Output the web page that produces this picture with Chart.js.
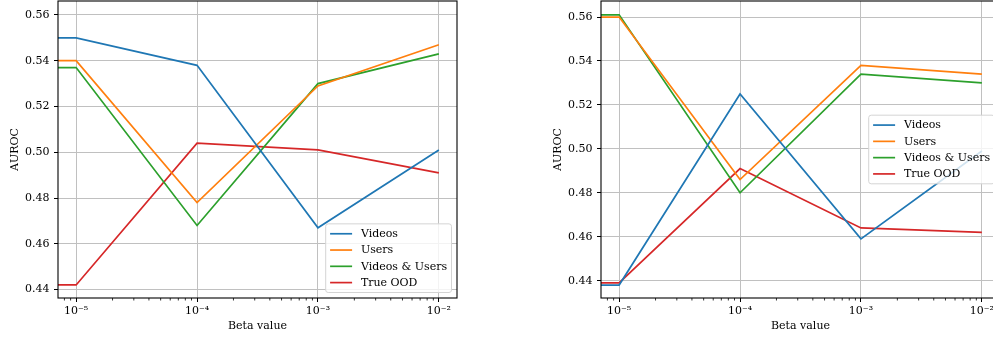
<!DOCTYPE html>
<html><head><meta charset="utf-8">
<script src="https://cdn.jsdelivr.net/npm/chart.js@4/dist/chart.umd.min.js"></script>
<style>
html,body{margin:0;padding:0;background:#fff;width:993px;height:340px;overflow:hidden;position:relative}
canvas{position:absolute;top:0}
#left{left:0}
#right{left:543px}
</style></head><body>
<canvas id="left" width="470" height="340"></canvas>
<canvas id="right" width="470" height="340"></canvas>
<script>
// beta = 0 sits on a log axis, so it is clipped to the left edge like matplotlib does
const betas = [0, 1e-5, 1e-4, 1e-3, 1e-2];
const seriesNames = ['Videos', 'Users', 'Videos & Users', 'True OOD'];
const seriesColors = ['#1f77b4', '#ff7f0e', '#2ca02c', '#d62728'];

// left panel
const videosA    = [0.550, 0.550, 0.538, 0.467, 0.501];
const usersA     = [0.540, 0.540, 0.478, 0.529, 0.547];
const bothA      = [0.537, 0.537, 0.468, 0.530, 0.543];
const trueOodA   = [0.442, 0.442, 0.504, 0.501, 0.491];

// right panel
const videosB    = [0.438, 0.438, 0.525, 0.459, 0.499];
const usersB     = [0.560, 0.560, 0.486, 0.538, 0.534];
const bothB      = [0.561, 0.561, 0.480, 0.534, 0.530];
const trueOodB   = [0.439, 0.439, 0.491, 0.464, 0.462];

const xTickValues = [1e-5, 1e-4, 1e-3, 1e-2];
const xTickLabels = ['10\u207B\u2075', '10\u207B\u2074', '10\u207B\u00B3', '10\u207B\u00B2'];
const yTickValues = [0.44, 0.46, 0.48, 0.50, 0.52, 0.54, 0.56];

const X_MIN = Math.pow(10, -5.15);
const X_MAX = Math.pow(10, -1.85);
const yRangeA = [0.4363, 0.5661];
const yRangeB = [0.4321, 0.5673];

const FONT = "'DejaVu Serif', serif";
const FS = 11;

function makeDatasets(seriesList) {
  return seriesList.map((vals, i) => ({
    label: seriesNames[i],
    data: betas.map((b, j) => ({ x: b > 0 ? b : X_MIN, y: vals[j] })),
    borderColor: seriesColors[i],
    backgroundColor: seriesColors[i],
    borderWidth: 1.7,
    pointRadius: 0,
    tension: 0,
    fill: false
  }));
}

const framePlugin = {
  id: 'frameAndLegend',
  afterDatasetsDraw(chart, args, opts) {
    const { ctx, chartArea: a } = chart;
    const x = chart.scales.x;
    ctx.save();
    // minor ticks of the log axis
    ctx.strokeStyle = '#000';
    ctx.lineWidth = 0.8;
    for (let e = -7; e <= 0; e++) {
      for (let m = 2; m <= 9; m++) {
        const v = m * Math.pow(10, e);
        if (v < x.min || v > x.max) continue;
        const px = x.getPixelForValue(v);
        ctx.beginPath();
        ctx.moveTo(px, a.bottom);
        ctx.lineTo(px, a.bottom + 2.5);
        ctx.stroke();
      }
    }
    // axes frame
    ctx.lineWidth = 1.1;
    ctx.strokeRect(a.left, a.top, a.right - a.left, a.bottom - a.top);

    // legend box
    const em = FS;
    ctx.font = FS + 'px ' + FONT;
    const ds = chart.data.datasets;
    const textW = Math.max(...ds.map(d => ctx.measureText(d.label).width));
    const pad = 0.4 * em, handle = 2 * em, gap = 0.8 * em;
    const rowH = 1.48 * em, edge = 0.9 * em;
    const w = pad + handle + gap + textW + pad;
    const h = edge * 2 + rowH * (ds.length - 1);
    const right = a.right - 0.5 * em;
    let top;
    if (opts.placement === 'lower right') top = a.bottom - 0.5 * em - h;
    else top = (a.top + a.bottom) / 2 - h / 2;
    const left = right - w;
    ctx.beginPath();
    ctx.roundRect(left, top, w, h, 2.5);
    ctx.fillStyle = 'rgba(255,255,255,0.8)';
    ctx.fill();
    ctx.strokeStyle = '#d4d4d4';
    ctx.lineWidth = 1;
    ctx.stroke();
    ctx.textBaseline = 'middle';
    ctx.textAlign = 'left';
    ds.forEach((d, i) => {
      const cy = top + edge + i * rowH;
      ctx.strokeStyle = d.borderColor;
      ctx.lineWidth = 1.7;
      ctx.beginPath();
      ctx.moveTo(left + pad, cy);
      ctx.lineTo(left + pad + handle, cy);
      ctx.stroke();
      ctx.fillStyle = '#000';
      ctx.fillText(d.label, left + pad + handle + gap, cy + 0.5);
    });
    ctx.restore();
  }
};

function makeChart(id, seriesList, yRange, placement) {
  return new Chart(document.getElementById(id), {
    type: 'line',
    data: { datasets: makeDatasets(seriesList) },
    options: {
      responsive: false,
      animation: false,
      devicePixelRatio: 1,
      layout: { padding: { top: 1, right: 13, left: 0, bottom: 0 }, autoPadding: false },
      plugins: {
        legend: { display: false },
        tooltip: { enabled: false },
        frameAndLegend: { placement }
      },
      scales: {
        x: {
          type: 'logarithmic',
          min: X_MIN,
          max: X_MAX,
          afterBuildTicks: s => { s.ticks = xTickValues.map(v => ({ value: v, major: true })); },
          afterFit: s => { s.height = 42; s.paddingLeft = 0; s.paddingRight = 0; },
          border: { display: false },
          grid: { color: '#c0c0c0', lineWidth: 1, drawTicks: true, tickLength: 4, tickColor: '#000', tickWidth: 1 },
          ticks: {
            autoSkip: false, maxRotation: 0, padding: 3,
            color: '#000', font: { family: FONT, size: FS },
            callback: (v, i) => xTickLabels[i]
          },
          title: {
            display: true, text: 'Beta value', color: '#000',
            font: { family: FONT, size: FS }, padding: { top: 0, bottom: 7 }
          }
        },
        y: {
          type: 'linear',
          min: yRange[0],
          max: yRange[1],
          afterBuildTicks: s => { s.ticks = yTickValues.map(v => ({ value: v })); },
          afterFit: s => { s.width = 58; s.paddingTop = 0; s.paddingBottom = 0; },
          border: { display: false },
          grid: { color: '#c0c0c0', lineWidth: 1, drawTicks: true, tickLength: 4, tickColor: '#000', tickWidth: 1 },
          ticks: {
            padding: 4.5, color: '#000', font: { family: FONT, size: FS },
            callback: v => v.toFixed(2)
          },
          title: {
            display: true, text: 'AUROC', color: '#000',
            font: { family: FONT, size: FS }, padding: { top: 8.4, bottom: 0 }
          }
        }
      }
    },
    plugins: [framePlugin]
  });
}

makeChart('left', [videosA, usersA, bothA, trueOodA], yRangeA, 'lower right');
makeChart('right', [videosB, usersB, bothB, trueOodB], yRangeB, 'center right');
</script>
</body></html>
